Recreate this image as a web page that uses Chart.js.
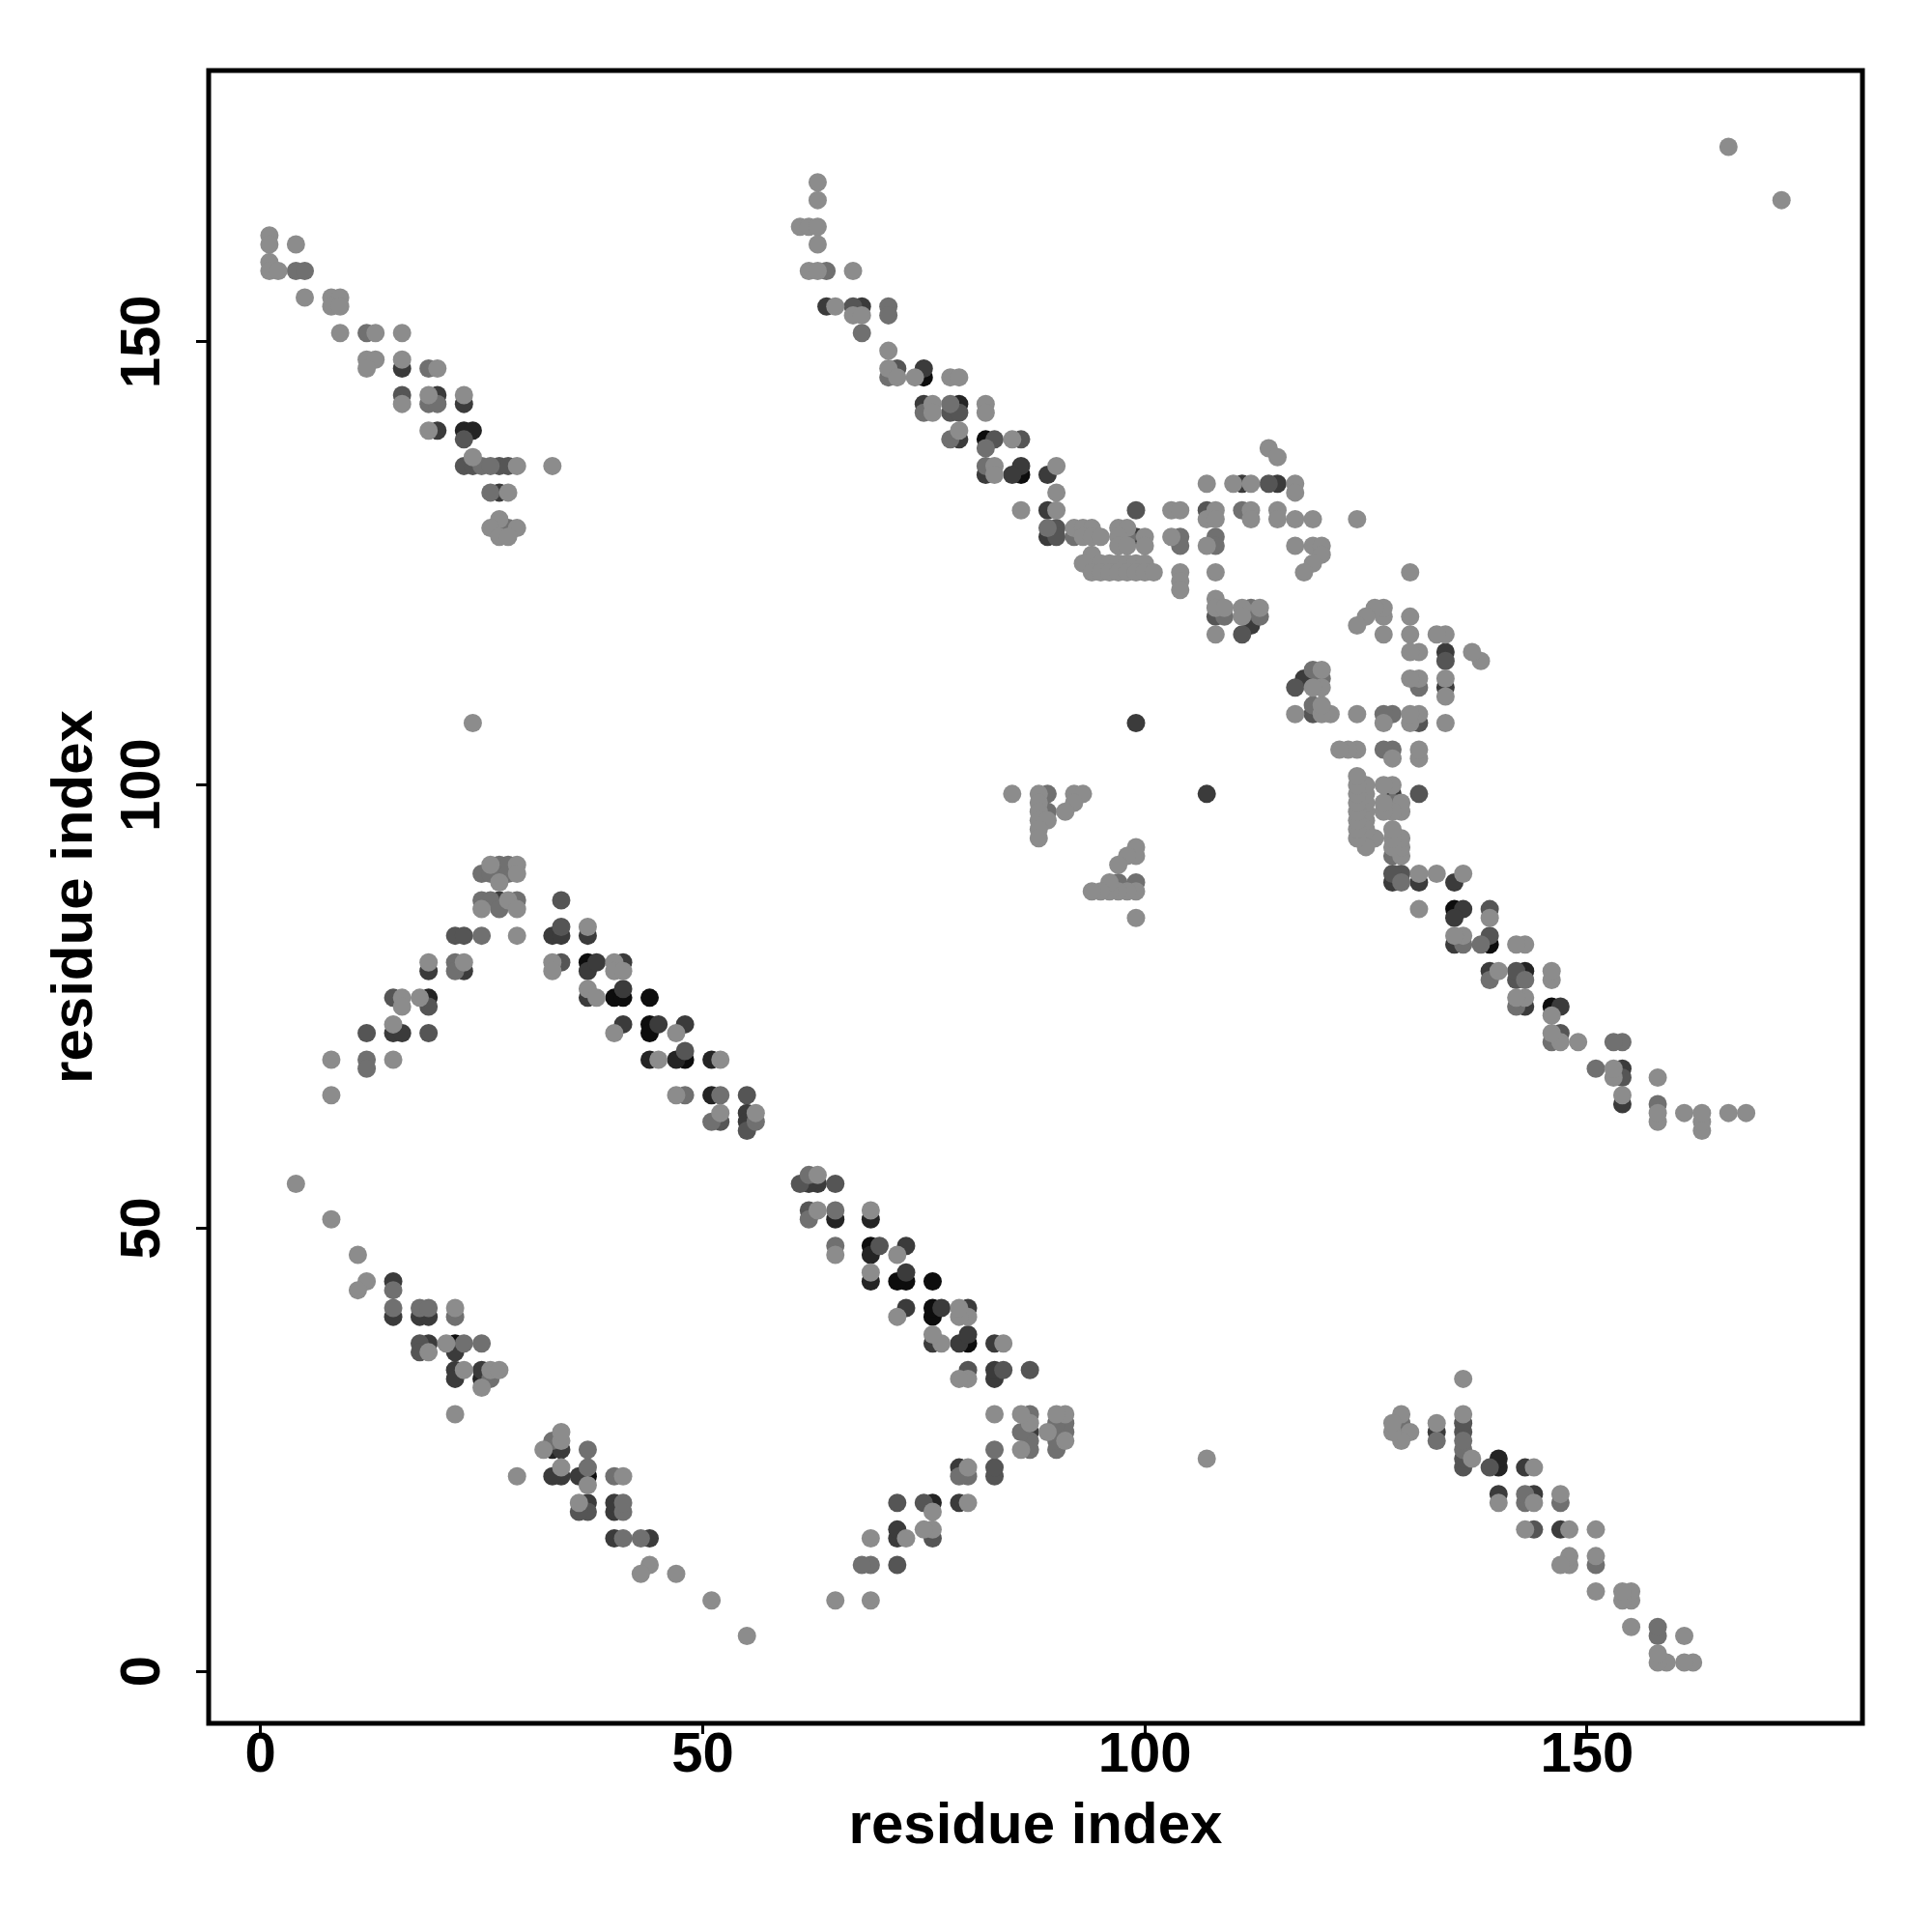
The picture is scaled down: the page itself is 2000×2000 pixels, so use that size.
<!DOCTYPE html>
<html><head><meta charset="utf-8">
<script src="https://cdn.jsdelivr.net/npm/chart.js@4.4.1/dist/chart.umd.min.js"></script>
<style>html,body{margin:0;padding:0;background:#fff}canvas{display:block}</style>
</head><body>
<canvas id="c" width="2000" height="2000" style="width:2000px;height:2000px"></canvas>
<script>
// Tick labels and axis title
const tickValues = [0, 50, 100, 150];
const xTitle = 'residue index';
const yTitle = 'residue index';

// Residue contacts (i < j); the contact map is symmetric, each contact is shown at (i,j) and (j,i).
// Grouped by shade (lightest to darkest).
const contactsLight = [
 [1,162],[1,161],[4,161],[1,159],[1,158],[2,158],[5,155],[8,155],[9,155],[8,154],[9,154],[9,151],[13,151],[16,151],
 [12,148],[13,148],[12,147],[16,148],[20,147],[16,143],[19,144],[23,144],[19,140],[24,137],[29,136],[33,136],[28,133],
 [27,130],[26,129],[29,129],[27,128],[28,128],
 [63,168],[63,166],[61,163],[62,163],[63,163],[63,161],[62,158],[63,158],[67,158],[65,154],[67,153],[68,153],[71,149],
 [71,147],[72,146],[74,146],[78,146],[79,146],[76,143],[82,143],[76,142],[82,142],[79,140],[85,139],[83,136],[90,136],
 [83,135],[90,133],[86,131],[90,131],[103,131],[104,131],[108,131],[112,131],[115,131],[107,134],[110,134],[112,134],
 [117,134],[114,138],[115,137],[117,133],[107,130],[108,130],[112,130],[115,130],[117,130],[119,130],[124,130],
 [92,129],[93,129],[94,129],[97,129],[98,129],[93,128],[94,128],[95,128],[97,128],[100,128],[103,128],[97,127],[98,127],
 [100,127],[107,127],[117,127],[119,127],[120,127],[94,126],[120,126],[93,125],[95,125],[96,125],[97,125],[98,125],
 [99,125],[100,125],[119,125],[94,124],[95,124],[96,124],[97,124],[98,124],[99,124],[100,124],[101,124],[104,124],
 [108,124],[118,124],[104,123],[104,122],[108,121],[108,120],[109,120],[111,120],[113,120],[111,119],[108,117],
 [24,107],[26,91],[29,91],[29,90],[27,89],[28,87],[25,86],[29,86],[37,84],[29,83],[19,80],[23,80],[33,80],[40,80],
 [33,79],[40,79],[41,79],[37,77],[16,76],[18,76],[38,76],[16,75],[15,73],[40,72],[47,72],[8,69],[15,69],[45,69],
 [52,69],[8,65],[47,65],[52,63],[56,63],
 [4,55],[8,51],[11,47],[12,44],[11,43],[22,41],[19,36],[21,37],[23,34],[26,34],[27,34],[25,32],[22,29],
 [85,99],[88,99],[92,99],[93,99],[88,98],[92,98],[88,97],[91,97],[88,96],[89,96],[88,95],[88,94],
 [166,172]
];
const contactsMid = [
 [4,158],[5,158],[12,151],[19,147],[19,143],[20,143],[25,136],[26,136],[26,133],[28,129],
 [64,158],[71,154],[71,153],[68,151],[71,146],[78,143],[75,142],[78,139],[82,138],[82,136],[111,131],[92,128],[98,128],
 [104,128],[108,128],[104,127],[108,127],[89,129],[112,120],[109,119],[113,119],
 [27,91],[28,91],[25,90],[26,90],[28,90],[25,87],[26,87],[29,87],[27,86],[25,83],[22,80],[22,79],[12,69],[12,68],
 [48,65],[52,65],[51,62],[56,62],
 [15,43],[15,41],[18,41],[19,41],[22,40],[23,37],[25,37],[26,33],
 [89,97],[89,99]
];
const contactsDark = [
 [16,144],[23,139],[23,136],[24,136],[27,136],[28,136],[27,129],
 [67,154],[72,147],[78,142],[79,142],[83,139],[86,139],[99,131],[107,131],[114,134],[90,129],[90,128],[108,119],[111,117],
 [34,87],[34,84],[22,83],[23,83],[34,80],[15,76],[19,75],[12,72],[19,72],[48,70],[55,65],[52,62],[55,61],
 [18,37],[18,36]
];
const contactsDarker = [
 [16,147],[20,144],[20,140],[27,133],[23,143],
 [64,154],[68,154],[75,147],[75,143],[79,139],[86,136],[82,135],[85,135],[89,135],[89,131],[111,134],[115,134],
 [89,128],[99,128],[112,118],
 [27,90],[27,87],[33,83],[34,83],[37,83],[19,79],[23,79],[37,79],[38,80],[41,80],[41,77],[37,76],[15,72],[16,72],
 [41,73],[45,73],[48,73],[55,63],[55,62],
 [15,44],[15,40],[18,40],[19,40],[19,37],[22,36],[22,34],[25,34],[22,33],
 [99,107]
];
const contactsNearBlack = [
 [23,140],[24,140],[79,143],[112,119],[19,76],[44,69],[47,69],[51,69],[51,65],[25,33]
];
const contactsBlack = [
 [75,146],[82,139],[86,135],[37,80],[40,76],[41,76],[44,76],[44,73],[44,72],[48,69],[22,37]
];

const groups = [
  {pairs: contactsLight, color: '#8c8c8c'},
  {pairs: contactsMid, color: '#707070'},
  {pairs: contactsDark, color: '#555555'},
  {pairs: contactsDarker, color: '#3b3b3b'},
  {pairs: contactsNearBlack, color: '#242424'},
  {pairs: contactsBlack, color: '#0d0d0d'}
];

function toPoints(pairs) {
  const pts = [];
  for (const [i, j] of pairs) { pts.push({x: i, y: j}); pts.push({x: j, y: i}); }
  return pts;
}

const FONT = "'Liberation Sans', Arial, Helvetica, sans-serif";

const boxPlugin = {
  id: 'box',
  afterDatasetsDraw(chart) {
    const {ctx, chartArea: a} = chart;
    ctx.save();
    ctx.lineWidth = 5;
    ctx.strokeStyle = '#000';
    ctx.strokeRect(a.left, a.top, a.right - a.left, a.bottom - a.top);
    ctx.restore();
  }
};

new Chart(document.getElementById('c'), {
  type: 'scatter',
  data: {
    datasets: groups.map(g => ({
      data: toPoints(g.pairs),
      backgroundColor: g.color,
      borderWidth: 0,
      pointRadius: 9.5,
      pointHoverRadius: 9.5
    }))
  },
  options: {
    responsive: false,
    animation: false,
    devicePixelRatio: 1,
    events: [],
    layout: {padding: {top: 73, right: 72, left: 0, bottom: 0}},
    plugins: {legend: {display: false}, tooltip: {enabled: false}},
    scales: {
      x: {
        type: 'linear', min: -5.87, max: 181.15,
        afterBuildTicks: s => { s.ticks = tickValues.map(v => ({value: v})); },
        afterFit: s => { s.height = 216; },
        border: {display: false},
        grid: {drawOnChartArea: false, drawTicks: true, tickLength: 11, tickWidth: 3, tickColor: '#000'},
        ticks: {color: '#000', autoSkip: false, maxRotation: 0, minRotation: 0, padding: -11.4,
                font: {family: FONT, size: 58, weight: 'bold', lineHeight: 1.2}},
        title: {display: true, text: xTitle, color: '#000', padding: {top: 0, bottom: 72.4},
                font: {family: FONT, size: 60, weight: 'bold', lineHeight: 1.2}}
      },
      y: {
        type: 'linear', min: -5.87, max: 180.62,
        afterBuildTicks: s => { s.ticks = tickValues.map(v => ({value: v})); },
        afterFit: s => { s.width = 216; },
        border: {display: false},
        grid: {drawOnChartArea: false, drawTicks: true, tickLength: 13, tickWidth: 3, tickColor: '#000'},
        ticks: {color: '#000', autoSkip: false, minRotation: 90, maxRotation: 90, crossAlign: 'center', padding: 5.4,
                font: {family: FONT, size: 58, weight: 'bold', lineHeight: 1.2}},
        title: {display: true, text: yTitle, color: '#000', padding: {top: 42.2, bottom: 0},
                font: {family: FONT, size: 60, weight: 'bold', lineHeight: 1.2}}
      }
    }
  },
  plugins: [boxPlugin]
});
</script>
</body></html>
